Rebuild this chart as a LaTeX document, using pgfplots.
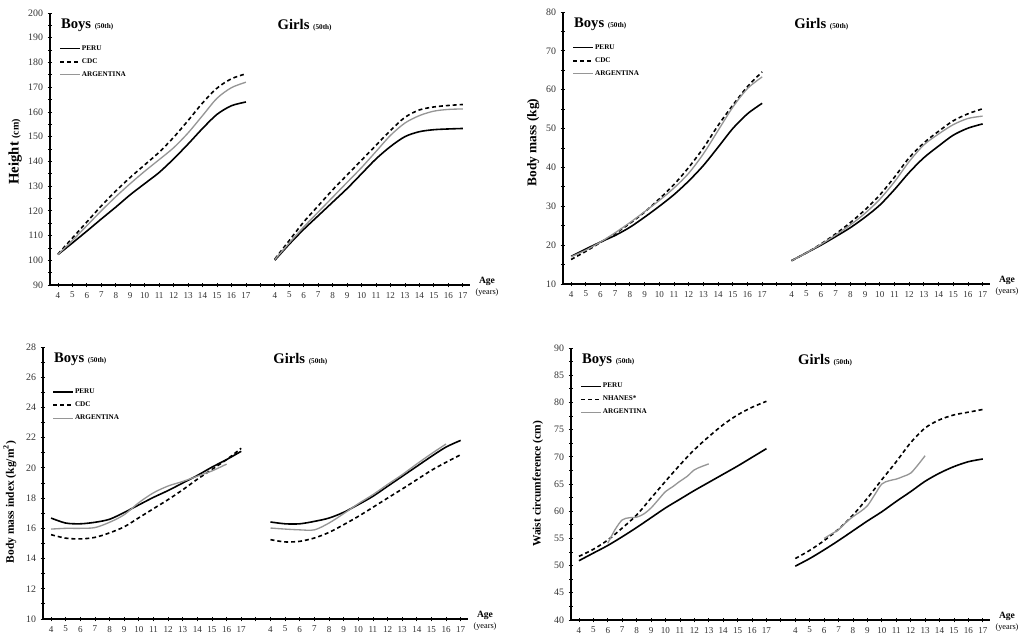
\documentclass[border=0pt]{standalone}
\usepackage{fontspec}
\setmainfont{Liberation Serif}
\usepackage{pgfplots}
\usepackage{pgfplotstable}
\pgfplotsset{compat=1.18}

\definecolor{argc}{RGB}{150,150,150}
\definecolor{tickc}{RGB}{50,50,50}

% 50th percentile curves; girls are drawn at age+15 on the shared x axis
\pgfplotstableread{
age peruB cdcB argB peruG cdcG argG
4  102.3 102.5 102.3 100.0 100.5 100.3
5  107.0 109.0 108.0 106.5 108.0 107.0
6  111.8 115.5 114.0 112.5 115.5 113.5
7  116.7 122.0 120.0 118.0 122.0 119.5
8  121.5 128.0 125.7 123.5 128.5 125.5
9  126.5 133.5 131.0 129.0 134.5 131.5
10 131.0 138.6 136.0 135.0 140.5 137.5
11 135.5 143.7 140.7 141.0 146.5 144.0
12 141.0 149.7 145.5 146.0 152.5 150.5
13 147.0 156.5 151.5 150.0 157.8 155.5
14 153.3 163.6 158.5 152.0 160.8 158.5
15 159.0 169.6 165.5 152.8 162.0 160.3
16 162.5 173.4 169.8 153.1 162.6 161.0
17 164.0 175.4 172.0 153.3 163.0 161.2
}\height

\pgfplotstableread{
age peruB cdcB argB peruG cdcG argG
4  17.1 16.3 17.0 16.0 16.0 16.0
5  19.0 18.4 18.7 18.0 18.0 18.0
6  20.8 20.7 20.8 20.0 20.3 20.2
7  22.5 23.0 23.2 22.2 22.9 22.6
8  24.6 25.6 25.8 24.5 25.8 25.2
9  27.2 28.5 28.6 27.2 29.1 28.2
10 30.0 31.9 31.5 30.3 32.9 31.8
11 33.0 35.6 34.7 34.3 37.5 36.3
12 36.5 40.0 38.5 38.7 42.5 41.5
13 40.5 45.0 43.5 42.5 46.3 45.8
14 45.2 50.8 49.5 45.5 49.3 48.6
15 50.0 56.0 55.5 48.3 52.0 51.0
16 53.8 60.8 60.3 50.1 53.8 52.6
17 56.5 64.6 63.3 51.2 55.1 53.2
}\mass

\pgfplotstableread{
age peruB cdcB argB peruG cdcG argG
4  16.68 15.58 15.95 16.42 15.25 16.02
5  16.35 15.35 16.00 16.30 15.10 15.95
6  16.30 15.30 16.00 16.30 15.14 15.90
7  16.40 15.40 16.05 16.46 15.36 15.90
8  16.60 15.70 16.40 16.68 15.73 16.35
9  17.05 16.10 16.90 17.06 16.24 16.97
10 17.55 16.70 17.70 17.57 16.79 17.63
11 18.05 17.30 18.35 18.12 17.39 18.23
12 18.50 17.90 18.80 18.78 18.00 18.90
13 19.00 18.55 19.10 19.44 18.60 19.55
14 19.50 19.25 19.45 20.10 19.22 20.26
15 20.05 19.90 19.80 20.76 19.84 20.94
16 20.55 20.55 20.25 21.38 20.37 21.58
17 21.10 21.30 nan   21.82 20.87 nan
}\bmi

\pgfplotstableread{
age peruB nhB peruG nhG
4  50.9 51.7 49.9 51.3
5  52.3 53.0 51.3 52.8
6  53.7 54.7 52.9 54.6
7  55.3 56.9 54.6 56.7
8  57.0 59.3 56.4 59.3
9  58.8 62.4 58.2 62.4
10 60.6 65.5 59.9 65.8
11 62.2 68.5 61.8 69.1
12 63.8 71.3 63.6 72.6
13 65.3 73.7 65.5 75.3
14 66.8 75.9 67.0 76.8
15 68.3 77.7 68.2 77.7
16 69.9 79.1 69.1 78.2
17 71.5 80.2 69.6 78.7
}\waist

\pgfplotstableread{
age argB argG
6    54.1 55.0
6.5  56.6 55.8
7    58.4 56.6
7.5  58.8 57.9
8    58.9 59.0
8.5  59.5 59.9
9    60.6 61.0
9.5  62.1 63.0
10   63.6 65.0
10.5 64.5 65.6
11   65.5 65.9
11.5 66.4 66.4
12   67.6 67.0
12.5 68.2 68.5
13   68.7 70.2
}\waistarg

\pgfplotsset{
  panel/.style={
    scale only axis, anchor=south west,
    axis lines=left, axis line style={-, line width=0.9pt},
    xmin=3.45, xmax=32.5,
    xtick={4,...,32},
    xticklabels={4,5,6,7,8,9,10,11,12,13,14,15,16,17,{},4,5,6,7,8,9,10,11,12,13,14,15,16,17},
    tick align=center, major tick length=3.5pt, minor tick length=2.5pt,
    every tick/.style={black, line width=0.6pt},
    minor y tick num=1,
    xticklabel style={font=\fontsize{6.8}{8}\selectfont, text=tickc},
    yticklabel style={font=\fontsize{7.4}{9}\selectfont, text=tickc},
    /pgf/number format/assume math mode=true,
    clip=false,
    legend cell align=left,
    legend style={draw=none, fill=none, font=\fontsize{5.4}{6}\selectfont\bfseries,
      row sep=3.5pt, inner sep=0pt, nodes={inner sep=0.6pt}, anchor=north west},
    legend image code/.code={\draw[##1] (0pt,0pt) -- (15pt,0pt);},
  },
  peru/.style={black, line width=1.2pt, smooth},
  cdc/.style={black, line width=1.2pt, smooth, dash pattern=on 3pt off 2.2pt},
  argen/.style={argc, line width=1pt, smooth},
}

\newcommand{\panelnotes}{%
  \node[anchor=west] at (rel axis cs:0.015,0.955)
    {\fontsize{11}{12}\selectfont\bfseries Boys \fontsize{5.4}{6}\selectfont (50th)};
  \node[anchor=west] at (rel axis cs:0.531,0.955)
    {\fontsize{11}{12}\selectfont\bfseries Girls \fontsize{5.4}{6}\selectfont (50th)};
  \node[font=\fontsize{7.2}{8}\selectfont\bfseries, xshift=12.75pt, yshift=3pt] at (rel axis cs:1,0) {Age};
  \node[font=\fontsize{6.2}{7}\selectfont, xshift=12.75pt, yshift=-6pt] at (rel axis cs:1,0) {(years)};
}

\begin{document}
\begin{tikzpicture}
\useasboundingbox (0,0) rectangle (768pt,481.5pt);

% height
\begin{axis}[panel, at={(37.5pt,267.75pt)}, width=315pt, height=204pt,
  ymin=90, ymax=200, ytick={90,100,...,200},
  ylabel={\fontsize{11}{12}\selectfont\bfseries Height \fontsize{7.5}{8}\selectfont (cm)},
  ylabel style={at={(axis description cs:-0.083,0.49)}, anchor=center},
  legend style={at={(rel axis cs:0.022,0.885)}}]
  \addplot[peru] table[x=age, y=peruB] {\height};
  \addlegendentry{PERU}
  \addplot[cdc] table[x=age, y=cdcB] {\height};
  \addlegendentry{CDC}
  \addplot[argen] table[x=age, y=argB] {\height};
  \addlegendentry{ARGENTINA}
  \addplot[peru, forget plot] table[x expr=\thisrow{age}+15, y=peruG] {\height};
  \addplot[cdc, forget plot] table[x expr=\thisrow{age}+15, y=cdcG] {\height};
  \addplot[argen, forget plot] table[x expr=\thisrow{age}+15, y=argG] {\height};
  \panelnotes
\end{axis}

% body mass
\begin{axis}[panel, at={(422.25pt,268.5pt)}, width=320.25pt, height=204pt,
  ymin=10, ymax=80, ytick={10,20,...,80},
  ylabel={\fontsize{10}{12}\selectfont\bfseries Body mass (kg)},
  ylabel style={at={(axis description cs:-0.070,0.52)}, anchor=center},
  legend style={at={(rel axis cs:0.022,0.885)}}]
  \addplot[peru] table[x=age, y=peruB] {\mass};
  \addlegendentry{PERU}
  \addplot[cdc] table[x=age, y=cdcB] {\mass};
  \addlegendentry{CDC}
  \addplot[argen] table[x=age, y=argB] {\mass};
  \addlegendentry{ARGENTINA}
  \addplot[peru, forget plot] table[x expr=\thisrow{age}+15, y=peruG] {\mass};
  \addplot[cdc, forget plot] table[x expr=\thisrow{age}+15, y=cdcG] {\mass};
  \addplot[argen, forget plot] table[x expr=\thisrow{age}+15, y=argG] {\mass};
  \panelnotes
\end{axis}

% body mass index
\begin{axis}[panel, at={(32.25pt,17.25pt)}, width=318.75pt, height=204pt,
  ymin=10, ymax=28, ytick={10,12,...,28},
  ylabel={\fontsize{8.6}{10}\selectfont\bfseries Body mass index (kg/m\textsuperscript{2})},
  ylabel style={at={(axis description cs:-0.078,0.43)}, anchor=center},
  legend style={at={(rel axis cs:0.022,0.85)}}]
  \addplot[peru] table[x=age, y=peruB] {\bmi};
  \addlegendentry{PERU}
  \addplot[cdc] table[x=age, y=cdcB] {\bmi};
  \addlegendentry{CDC}
  \addplot[argen] table[x=age, y=argB] {\bmi};
  \addlegendentry{ARGENTINA}
  \addplot[peru, forget plot] table[x expr=\thisrow{age}+15, y=peruG] {\bmi};
  \addplot[cdc, forget plot] table[x expr=\thisrow{age}+15, y=cdcG] {\bmi};
  \addplot[argen, forget plot] table[x expr=\thisrow{age}+15, y=argG] {\bmi};
  \panelnotes
\end{axis}

% waist circumference
\begin{axis}[panel, at={(428.25pt,16.5pt)}, width=314.25pt, height=204pt,
  ymin=40, ymax=90, ytick={40,45,...,90},
  ylabel={\fontsize{8.6}{10}\selectfont\bfseries Waist circumference (cm)},
  ylabel style={at={(axis description cs:-0.079,0.50)}, anchor=center},
  legend style={at={(rel axis cs:0.022,0.875)}}]
  \addplot[peru] table[x=age, y=peruB] {\waist};
  \addlegendentry{PERU}
  \addplot[cdc] table[x=age, y=nhB] {\waist};
  \addlegendentry{NHANES*}
  \addplot[argen] table[x=age, y=argB] {\waistarg};
  \addlegendentry{ARGENTINA}
  \addplot[peru, forget plot] table[x expr=\thisrow{age}+15, y=peruG] {\waist};
  \addplot[cdc, forget plot] table[x expr=\thisrow{age}+15, y=nhG] {\waist};
  \addplot[argen, forget plot] table[x expr=\thisrow{age}+15, y=argG] {\waistarg};
  \panelnotes
\end{axis}
\end{tikzpicture}
\end{document}
